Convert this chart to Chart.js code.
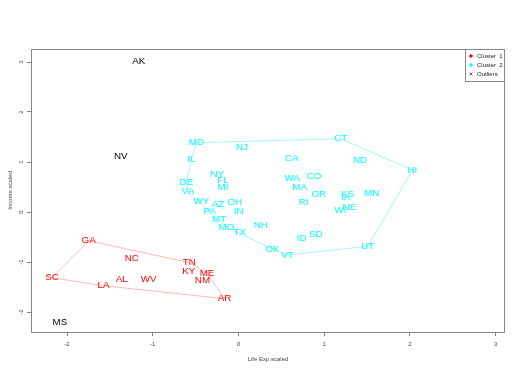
<!DOCTYPE html>
<html>
<head>
<meta charset="utf-8">
<script src="https://cdn.jsdelivr.net/npm/chart.js@4.4.0/dist/chart.umd.min.js"></script>
<style>
html,body{margin:0;padding:0;background:#fff;}
#wrap{width:512px;height:384px;}
</style>
</head>
<body>
<div id="wrap"><canvas id="c" width="512" height="384"></canvas></div>
<script>
// ---- data (Life Exp.scaled, Income.scaled) ----
const cluster1States = ["GA","SC","NC","TN","KY","ME","NM","AL","WV","LA","AR"];
const cluster1X = [-1.747,-2.175,-1.245,-0.572,-0.580,-0.366,-0.420,-1.362,-1.047,-1.575,-0.163];
const cluster1Y = [-0.574,-1.314,-0.926,-1.014,-1.194,-1.226,-1.374,-1.340,-1.340,-1.474,-1.734];

const cluster2States = ["MD","NJ","IL","NY","FL","MI","DE","VA","WY","AZ","OH","PA","IN","MT","MO","TX","NH","OK","VT","CA","CT","ND","HI","WA","CO","MA","OR","KS","IA","MN","RI","NE","WI","ID","SD","UT"];
const cluster2X = [-0.490,0.042,-0.548,-0.245,-0.180,-0.180,-0.607,-0.588,-0.432,-0.238,-0.043,-0.335,0.004,-0.226,-0.140,0.015,0.260,0.397,0.572,0.622,1.194,1.419,2.030,0.630,0.882,0.715,0.937,1.272,1.252,1.555,0.762,1.295,1.190,0.739,0.902,1.509];
const cluster2Y = [1.386,1.286,1.054,0.754,0.626,0.494,0.586,0.420,0.220,0.154,0.194,0.020,0.020,-0.154,-0.306,-0.406,-0.274,-0.740,-0.860,1.080,1.466,1.034,0.840,0.680,0.706,0.500,0.346,0.360,0.286,0.374,0.186,0.094,0.040,-0.526,-0.454,-0.686];

const outlierStates = ["AK","NV","MS"];
const outlierX = [-1.163,-1.373,-2.082];
const outlierY = [3.02,1.12,-2.20];

const xTicks = [-2,-1,0,1,2,3];
const yTicks = [-2,-1,0,1,2,3];
const legendLabels = ["Cluster  1","Cluster  2","Outliers"];
const xTitle = "Life Exp.scaled";
const yTitle = "Income.scaled";

const RED = "#FF0000", CYAN = "#00FFFF";

function pts(xs, ys){ return xs.map((x,i)=>({x:x, y:ys[i]})); }
function hull(points){
  const p = points.slice().sort((a,b)=>a.x-b.x || a.y-b.y);
  const cross=(o,a,b)=>(a.x-o.x)*(b.y-o.y)-(a.y-o.y)*(b.x-o.x);
  const lower=[], upper=[];
  for(const q of p){ while(lower.length>=2 && cross(lower[lower.length-2],lower[lower.length-1],q)<=0) lower.pop(); lower.push(q); }
  for(let i=p.length-1;i>=0;i--){ const q=p[i]; while(upper.length>=2 && cross(upper[upper.length-2],upper[upper.length-1],q)<=0) upper.pop(); upper.push(q); }
  upper.pop(); lower.pop();
  const h = lower.concat(upper);
  h.push(h[0]);
  return h;
}

const c1 = pts(cluster1X, cluster1Y), c2 = pts(cluster2X, cluster2Y), out = pts(outlierX, outlierY);

const labelPlugin = {
  id:'labelPlugin',
  afterDatasetsDraw(chart){
    const ctx = chart.ctx;
    ctx.save();
    ctx.font = '9.8px "Liberation Sans", Arial, sans-serif';
    ctx.textAlign='center'; ctx.textBaseline='middle';
    chart.data.datasets.forEach((ds,di)=>{
      if(!ds.stateLabels) return;
      const meta = chart.getDatasetMeta(di);
      ctx.fillStyle = ds.textColor;
      meta.data.forEach((el,i)=>{ ctx.fillText(ds.stateLabels[i], el.x, el.y); });
    });
    ctx.restore();
  },
  afterDraw(chart){
    const ctx = chart.ctx, a = chart.chartArea;
    ctx.save();
    // box
    ctx.strokeStyle = '#888'; ctx.lineWidth = 1;
    ctx.strokeRect(Math.round(a.left)+0.5, Math.round(a.top)+0.5, Math.round(a.right-a.left)-1, Math.round(a.bottom-a.top));
    // y tick labels rotated
    const ys = chart.scales.y;
    ctx.fillStyle = '#444';
    ctx.font = '6px "Liberation Sans", Arial, sans-serif';
    ctx.textAlign='center'; ctx.textBaseline='middle';
    yTicks.forEach(v=>{
      const py = ys.getPixelForValue(v);
      ctx.save(); ctx.translate(21, py); ctx.rotate(-Math.PI/2); ctx.fillText(String(v),0,0); ctx.restore();
    });
    // axis titles
    ctx.fillText(xTitle, (a.left+a.right)/2, 359);
    ctx.save(); ctx.translate(10, (a.top+a.bottom)/2); ctx.rotate(-Math.PI/2); ctx.fillText(yTitle,0,0); ctx.restore();
    // legend
    const lx = 465, ly = a.top, lw = a.right - lx, lh = 32;
    ctx.fillStyle='#fff'; ctx.fillRect(lx, ly, lw, lh);
    ctx.strokeStyle='#888'; ctx.strokeRect(lx+0.5, ly+0.5, lw-1, lh);
    ctx.textAlign='left';
    const cols=[RED,CYAN,null];
    legendLabels.forEach((t,i)=>{
      const yy = ly + 7 + i*9;
      if(cols[i]){ ctx.fillStyle=cols[i]; ctx.beginPath(); ctx.arc(lx+6, yy, 1.8, 0, Math.PI*2); ctx.fill(); }
      else { ctx.strokeStyle='#444'; ctx.lineWidth=0.8; ctx.beginPath(); ctx.moveTo(lx+4.5,yy-1.5); ctx.lineTo(lx+7.5,yy+1.5); ctx.moveTo(lx+7.5,yy-1.5); ctx.lineTo(lx+4.5,yy+1.5); ctx.stroke(); }
      ctx.fillStyle='#222';
      ctx.fillText(t, lx+12, yy+0.5);
    });
    ctx.restore();
  }
};

new Chart(document.getElementById('c'), {
  type:'scatter',
  data:{ datasets:[
    {data:hull(c1), showLine:true, pointRadius:0, borderColor:'rgba(255,0,0,0.28)', borderWidth:1, tension:0, fill:false},
    {data:hull(c2), showLine:true, pointRadius:0, borderColor:'rgba(0,225,225,0.35)', borderWidth:1, tension:0, fill:false},
    {data:c1, pointRadius:0, stateLabels:cluster1States, textColor:RED},
    {data:c2, pointRadius:0, stateLabels:cluster2States, textColor:CYAN},
    {data:out, pointRadius:0, stateLabels:outlierStates, textColor:'#000'}
  ]},
  options:{
    responsive:false, animation:false,
    layout:{padding:{left:0,right:7,top:49,bottom:0}},
    plugins:{legend:{display:false}, tooltip:{enabled:false}},
    scales:{
      x:{type:'linear', min:-2.42, max:3.11,
         afterBuildTicks(s){ s.ticks = xTicks.map(v=>({value:v})); },
         afterFit(s){ s.height = 52; },
         grid:{drawOnChartArea:false, drawTicks:true, tickLength:4, color:'#888'},
         border:{display:false},
         ticks:{color:'#444', font:{size:6, family:'"Liberation Sans", Arial, sans-serif'}, padding:5, maxRotation:0}
      },
      y:{type:'linear', min:-2.4, max:3.26,
         afterBuildTicks(s){ s.ticks = yTicks.map(v=>({value:v})); },
         afterFit(s){ s.width = 31; },
         grid:{drawOnChartArea:false, drawTicks:true, tickLength:4, color:'#888'},
         border:{display:false},
         ticks:{display:false}
      }
    }
  },
  plugins:[labelPlugin]
});
</script>
</body>
</html>
